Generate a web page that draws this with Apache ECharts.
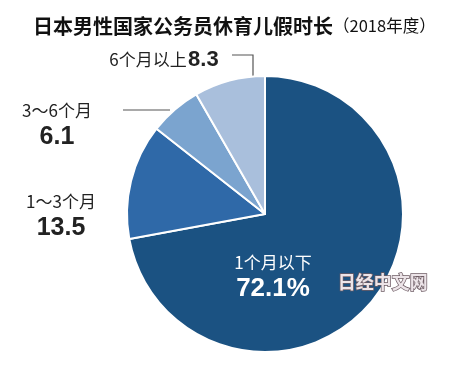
<!DOCTYPE html>
<html>
<head>
<meta charset="utf-8">
<script src="https://cdn.jsdelivr.net/npm/echarts@6/dist/echarts.min.js"></script>
<style>html,body{margin:0;padding:0;background:#fff;}#c{width:450px;height:371px;}</style>
</head>
<body>
<div id="c"></div>
<script>
// Data
var categories = ['1个月以下', '1～3个月', '3～6个月', '6个月以上'];
var values = [72.1, 13.5, 6.1, 8.3];
var colors = ['#1b5282', '#2f69a8', '#7ba4cf', '#a9bfdc'];

var FONT = '"Liberation Sans", "Noto Sans CJK SC", sans-serif';
var CJK = '"Noto Sans CJK SC", sans-serif';

// label layout (styles only)
var labelPos = [
  {x: 273, y: 277, line: null},
  {x: 61, y: 216, line: null},
  {x: 57, y: 125, line: [[123, 110], [146, 110], [170, 110]]},
  {x: 164, y: 60, line: [[232, 55], [253, 55], [253, 78]]}
];

var data = categories.map(function (name, i) {
  var item = {name: name, value: values[i], itemStyle: {color: colors[i]}};
  if (i === 0) {
    item.label = {position: 'inside', formatter: '{aw|{b}}\n{vw|{c}%}'};
    item.labelLine = {show: false};
  } else if (i === 3) {
    item.label = {formatter: '{a|{b}}{s| }{v2|{c}}'};
    item.labelLine = {show: true};
  } else if (i === 2) {
    item.label = {formatter: '{a|{b}}\n{v|{c}}'};
    item.labelLine = {show: true};
  } else {
    item.label = {formatter: '{a|{b}}\n{v|{c}}'};
    item.labelLine = {show: false};
  }
  return item;
});

var chart = echarts.init(document.getElementById('c'));
chart.setOption({
  animation: false,
  title: {
    text: '日本男性国家公务员休育儿假时长{s|（2018年度）}',
    left: 28,
    top: 11,
    textStyle: {
      fontFamily: CJK,
      fontSize: 20,
      fontWeight: 'bold',
      color: '#111',
      rich: {
        s: {fontFamily: CJK, fontSize: 16.5, fontWeight: 'normal', color: '#111'}
      }
    }
  },
  graphic: [{
    type: 'text',
    left: 337,
    top: 272,
    z: 100,
    zlevel: 1,
    style: {
      text: '日经中文网',
      fontFamily: CJK,
      fontSize: 18,
      fontWeight: 'bold',
      fill: '#ece4e8',
      stroke: '#6e5c64',
      lineWidth: 1.5
    }
  }],
  series: [{
    type: 'pie',
    center: [265, 214],
    radius: [0, 138],
    startAngle: 90,
    clockwise: true,
    itemStyle: {borderColor: '#fff', borderWidth: 2},
    label: {
      show: true,
      position: 'outside',
      align: 'center',
      overflow: 'none',
      fontFamily: FONT,
      rich: {
        a: {fontFamily: CJK, fontSize: 17, color: '#222', lineHeight: 24, align: 'center'},
        v: {fontFamily: FONT, fontSize: 25, fontWeight: 'bold', color: '#222', lineHeight: 28, align: 'center'},
        v2: {fontFamily: FONT, fontSize: 22, fontWeight: 'bold', color: '#222', lineHeight: 24},
        s: {fontSize: 5, lineHeight: 24},
        aw: {fontFamily: CJK, fontSize: 17, color: '#fff', lineHeight: 24, align: 'center'},
        vw: {fontFamily: FONT, fontSize: 26, fontWeight: 'bold', color: '#fff', lineHeight: 28, align: 'center'}
      }
    },
    labelLine: {lineStyle: {color: '#555', width: 1.2}},
    labelLayout: function (params) {
      var p = labelPos[params.dataIndex];
      var r = {x: p.x, y: p.y, align: 'center', verticalAlign: 'middle'};
      if (p.line) r.labelLinePoints = p.line;
      return r;
    },
    data: data
  }]
});
</script>
</body>
</html>
